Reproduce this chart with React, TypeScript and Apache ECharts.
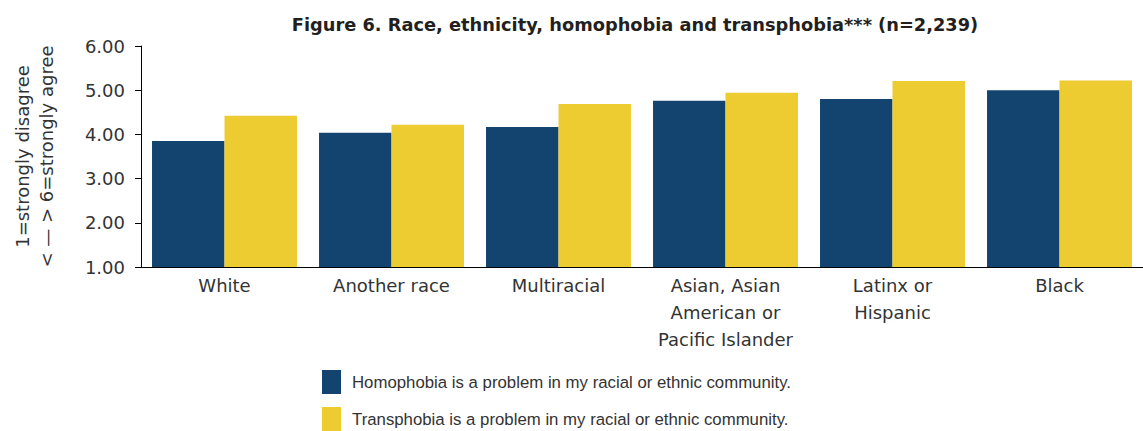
import React, { useEffect, useRef } from "react";
import * as echarts from "echarts";

const categories = [
  "White",
  "Another race",
  "Multiracial",
  "Asian, Asian\nAmerican or\nPacific Islander",
  "Latinx or\nHispanic",
  "Black",
];
const homophobia = [3.85, 4.04, 4.17, 4.76, 4.8, 5.0];
const transphobia = [4.42, 4.22, 4.69, 4.94, 5.21, 5.22];
const seriesNames = [
  "Homophobia is a problem in my racial or ethnic community.",
  "Transphobia is a problem in my racial or ethnic community.",
];
const yTicks = { min: 1, max: 6, interval: 1 };
const titleText = "Figure 6. Race, ethnicity, homophobia and transphobia*** (n=2,239)";
const yName = "1=strongly disagree\n< — > 6=strongly agree";

const FONT = "DejaVu Sans";
const NAVY = "#12446f";
const YELLOW = "#edcc32";

const legendBase = {
  icon: "rect",
  itemWidth: 19,
  itemHeight: 24,
  selectedMode: false,
  left: 317,
  textStyle: { fontFamily: "Liberation Sans", fontSize: 16.8, color: "#333333", padding: [0, 0, 0, 6] },
};

export default function App() {
  const ref = useRef<HTMLDivElement>(null);
  useEffect(() => {
    if (!ref.current) return;
    const chart = echarts.init(ref.current, null, { renderer: "svg" });
    chart.setOption({
      animation: false,
      backgroundColor: "#ffffff",
      textStyle: { fontFamily: FONT },
      title: {
        text: titleText,
        left: 630,
        top: 10,
        textAlign: "center",
        textStyle: { fontFamily: FONT, fontSize: 17.8, fontWeight: "bold", color: "#231f20" },
      },
      grid: { left: 141, right: 0, top: 46, bottom: 164, containLabel: false },
      legend: [
        { ...legendBase, top: 365, data: [seriesNames[0]] },
        { ...legendBase, top: 402, data: [seriesNames[1]] },
      ],
      xAxis: {
        type: "category",
        data: categories,
        axisLine: { show: true, lineStyle: { color: "#000000", width: 1 } },
        axisTick: { show: false },
        axisLabel: {
          fontFamily: FONT,
          fontSize: 18,
          lineHeight: 27,
          color: "#333333",
          margin: 5,
          interval: 0,
        },
      },
      yAxis: {
        type: "value",
        min: yTicks.min,
        max: yTicks.max,
        interval: yTicks.interval,
        name: yName,
        nameLocation: "middle",
        nameRotate: 90,
        nameGap: 83,
        nameTextStyle: { fontFamily: FONT, fontSize: 18, lineHeight: 24, color: "#333333", align: "center" },
        axisLine: { show: true, lineStyle: { color: "#000000", width: 1 } },
        axisTick: { show: true, inside: false, length: 6, lineStyle: { color: "#000000" } },
        splitLine: { show: false },
        axisLabel: {
          fontFamily: FONT,
          fontSize: 18,
          color: "#333333",
          margin: 16,
          formatter: (v: number) => v.toFixed(2),
        },
      },
      series: [
        {
          name: seriesNames[0],
          type: "bar",
          data: homophobia,
          itemStyle: { color: NAVY },
          barGap: "0%",
          barCategoryGap: "13.2%",
        },
        {
          name: seriesNames[1],
          type: "bar",
          data: transphobia,
          itemStyle: { color: YELLOW },
          barGap: "0%",
          barCategoryGap: "13.2%",
        },
      ],
    });
    return () => chart.dispose();
  }, []);
  return (
    <div
      ref={ref}
      style={{ position: "fixed", left: 0, top: 0, width: 1143, height: 431, background: "#fff" }}
    />
  );
}
